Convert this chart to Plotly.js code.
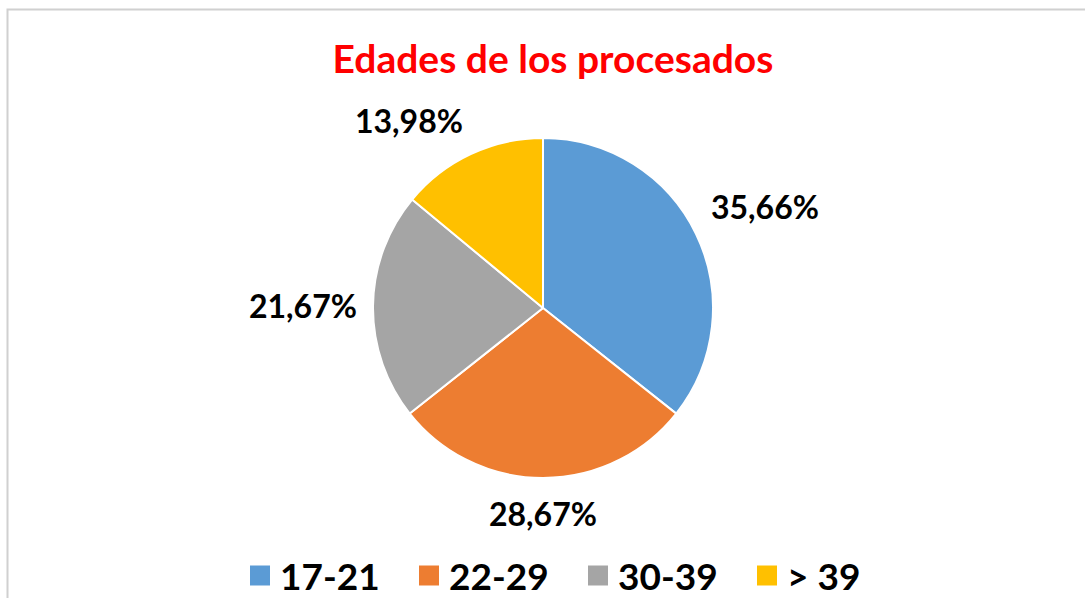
<!DOCTYPE html>
<html><head><meta charset="utf-8">
<script src="https://cdn.plot.ly/plotly-3.0.1.min.js"></script>
<style>html,body{margin:0;padding:0;background:#fff}#c{width:1085px;height:598px}</style>
</head><body><div id="c"></div>
<script>
const categories = ["17-21", "22-29", "30-39", "> 39"];
const values = [35.66, 28.67, 21.67, 13.98];
const labelTexts = ["35,66%", "28,67%", "21,67%", "13,98%"];
const colors = ["#5B9BD5", "#ED7D31", "#A5A5A5", "#FFC000"];

const W = 1085, H = 598;
const cx = 543, cy = 308, r = 170;
const labelR = r + 15;
const FONT = "Lato, 'Open Sans', sans-serif";

const trace = {
  type: "pie",
  labels: categories,
  values: values,
  textinfo: "none",
  sort: false,
  direction: "clockwise",
  rotation: 0,
  marker: {colors: colors, line: {color: "#ffffff", width: 2}},
  hoverinfo: "none",
  domain: {x: [(cx - r) / W, (cx + r) / W], y: [1 - (cy + r) / H, 1 - (cy - r) / H]}
};

// data labels placed outside each slice at its mid-angle (computed from the values)
const total = values.reduce((a, b) => a + b, 0);
let cum = 0;
const annotations = values.map((v, i) => {
  const mid = (cum + v / 2) / total * 2 * Math.PI;
  cum += v;
  const dx = Math.sin(mid), dy = -Math.cos(mid); // screen direction (y down)
  const px = cx + labelR * dx, py = cy + labelR * dy;
  return {
    xref: "paper", yref: "paper", showarrow: false,
    x: px / W, y: 1 - py / H,
    xanchor: dx > 0.35 ? "left" : (dx < -0.35 ? "right" : "center"),
    yanchor: dy > 0.35 ? "top" : (dy < -0.35 ? "bottom" : "middle"),
    text: "<b>" + labelTexts[i] + "</b>",
    font: {family: FONT, size: 32, color: "#000"},
    borderpad: 0
  };
});

const layout = {
  width: W, height: H,
  margin: {l: 0, r: 0, t: 0, b: 0, autoexpand: false},
  paper_bgcolor: "#fff",
  title: {
    text: "<b>Edades de los procesados</b>",
    font: {family: FONT, size: 39, color: "#FF0000"},
    x: 553 / W, xanchor: "center", y: 1 - 59 / H, yanchor: "middle"
  },
  showlegend: true,
  legend: {
    orientation: "h", x: 240 / W, xanchor: "left", y: 1 - 576 / H, yanchor: "middle",
    bgcolor: "rgba(0,0,0,0)",
    font: {family: FONT, size: 37, color: "#000", weight: "bold"},
    itemwidth: 30, traceorder: "normal", entrywidth: 124, entrywidthmode: "pixels"
  },
  annotations: annotations,
  shapes: [{
    type: "rect", xref: "paper", yref: "paper",
    x0: 7.5 / W, x1: 1.02, y0: -0.02, y1: 1 - 9.5 / H,
    line: {color: "#d0d0d0", width: 2}
  }]
};

Plotly.newPlot("c", [trace], layout, {displayModeBar: false, staticPlot: true}).then(gd => {
  gd.querySelectorAll("path.legendpie").forEach(p => p.setAttribute("d", "M11,11H-11V-11H11Z"));
});
</script></body></html>
